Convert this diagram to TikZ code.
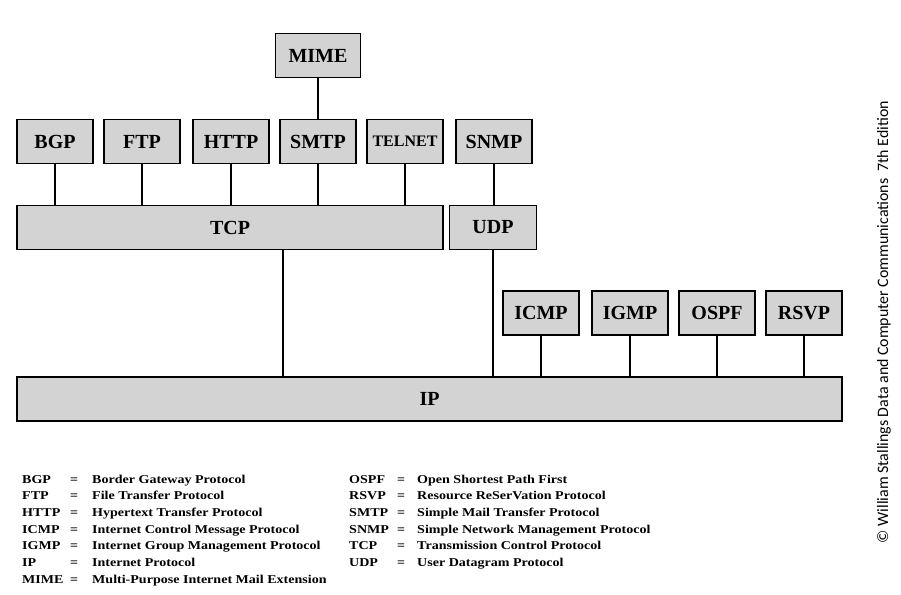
\documentclass[tikz,border=0pt]{standalone}
\usepackage{fontspec}
\setmainfont{Liberation Serif}
\newfontfamily\legendfont[FakeStretch=1.17]{Liberation Serif}
\newfontfamily\notefont{Carlito}
\usetikzlibrary{positioning}
\definecolor{boxgray}{RGB}{211,211,211}
\tikzset{
    protbox/.style = {rectangle, line width=1.6pt, draw=black, fill=boxgray, inner sep=0pt, minimum width=76pt, minimum height=44pt, font=\bfseries\fontsize{20}{24}\selectfont, text=black},
    protboxs/.style = {protbox, font=\bfseries\fontsize{16}{19}\selectfont}, % smaller label
    edgen/.style = {-, line width=1.9pt, black},
    legend/.style = {anchor=base west, inner sep=0pt, font=\legendfont\bfseries\fontsize{12}{16.7}\selectfont},
    note/.style = {rotate=90, inner sep=0pt, font=\notefont\fontsize{15.9}{18}\selectfont}
}

\begin{document}
\begin{tikzpicture}[x=1pt, y=-1pt]
\useasboundingbox (0,0) rectangle (901,594);

% application protocols
\node[protbox, minimum width=85pt] at (318,  55.5) (mime) {MIME};
\node[protbox] at ( 55, 141.5) (bgp) {BGP};
\node[protbox] at (142, 141.5) (ftp) {FTP};
\node[protbox] at (231, 141.5) (http) {HTTP};
\node[protbox] at (318, 141.5) (smtp) {SMTP};
\node[protboxs] at (405, 141.5) (telnet) {TELNET};
\node[protbox] at (494, 141.5) (snmp) {SNMP};

% transport
\node[protbox, minimum width=426pt] at (230, 227.5) (tcp) {TCP};
\node[protbox, minimum width=87pt] at (493, 227.5) (udp) {UDP};

% network layer helpers
\node[protbox] at (541, 313.0) (icmp) {ICMP};
\node[protbox] at (630, 313.0) (igmp) {IGMP};
\node[protbox] at (717, 313.0) (ospf) {OSPF};
\node[protbox] at (804, 313.0) (rsvp) {RSVP};
\node[protbox, minimum width=825pt] at (429.5, 399.0) (ip) {IP};

\draw[edgen] (mime) -- (smtp);
\draw[edgen] (bgp) -- (bgp |- tcp.north);
\draw[edgen] (ftp) -- (ftp |- tcp.north);
\draw[edgen] (http) -- (http |- tcp.north);
\draw[edgen] (smtp) -- (smtp |- tcp.north);
\draw[edgen] (telnet) -- (telnet |- tcp.north);
\draw[edgen] (snmp) -- (snmp |- udp.north);
\draw[edgen] ([xshift=53pt]tcp.south) -- ([xshift=53pt]tcp.south |- ip.north);
\draw[edgen] (udp) -- (udp |- ip.north);
\draw[edgen] (icmp) -- (icmp |- ip.north);
\draw[edgen] (igmp) -- (igmp |- ip.north);
\draw[edgen] (ospf) -- (ospf |- ip.north);
\draw[edgen] (rsvp) -- (rsvp |- ip.north);

% legend
\node[legend] at (22, 483) (legendl) {\begin{tabular}[t]{@{}p{48pt}@{}p{22pt}@{}l@{}}
BGP  & = & Border Gateway Protocol\\
FTP  & = & File Transfer Protocol\\
HTTP & = & Hypertext Transfer Protocol\\
ICMP & = & Internet Control Message Protocol\\
IGMP & = & Internet Group Management Protocol\\
IP   & = & Internet Protocol\\
MIME & = & Multi-Purpose Internet Mail Extension
\end{tabular}};
\node[legend] at (349, 483) (legendr) {\begin{tabular}[t]{@{}p{48pt}@{}p{20pt}@{}l@{}}
OSPF & = & Open Shortest Path First\\
RSVP & = & Resource ReSerVation Protocol\\
SMTP & = & Simple Mail Transfer Protocol\\
SNMP & = & Simple Network Management Protocol\\
TCP  & = & Transmission Control Protocol\\
UDP  & = & User Datagram Protocol
\end{tabular}};

\node[note] at (884, 322) (copy) {© William Stallings Data and Computer Communications\ \ 7th Edition};

\end{tikzpicture}
\end{document}
